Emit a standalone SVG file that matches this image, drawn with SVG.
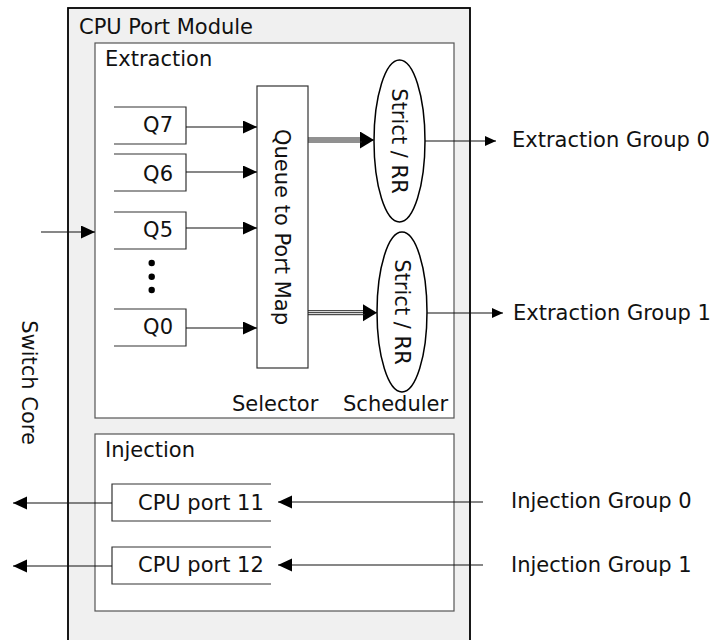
<svg xmlns="http://www.w3.org/2000/svg" width="712" height="640" viewBox="0 0 712 640">
<defs>
<style>
text{font-family:"DejaVu Sans",Verdana,sans-serif;font-size:21px;fill:#111}
.box{fill:#fff;stroke:#555;stroke-width:1.2}
.q{fill:#fff;stroke:#333;stroke-width:1.2}
.open{fill:none;stroke:#333;stroke-width:1.2}
.ln{fill:none;stroke:#111;stroke-width:1.2}
.tri{fill:none;stroke:#222;stroke-width:1}
</style>
<marker id="ah" markerUnits="userSpaceOnUse" markerWidth="14" markerHeight="14" refX="14" refY="6.5" orient="auto">
<path d="M0,0 L14,6.5 L0,13 z" fill="#000"/>
</marker>
<marker id="ahs" markerUnits="userSpaceOnUse" markerWidth="12" markerHeight="11" refX="11" refY="5" orient="auto">
<path d="M0,0 L11,5 L0,10 z" fill="#000"/>
</marker>
<marker id="ahb" markerUnits="userSpaceOnUse" markerWidth="15" markerHeight="18" refX="14" refY="8.5" orient="auto">
<path d="M0,0 L14,8.5 L0,17 z" fill="#000"/>
</marker>
</defs>

<g id="cpu-port-module">
<rect x="68" y="8" width="402" height="640" fill="#f0f0f0" stroke="#000" stroke-width="1.8"/>
<text x="79" y="34">CPU Port Module</text>
</g>

<g id="extraction">
<rect class="box" x="95" y="43" width="359" height="375"/>
<text x="105" y="66">Extraction</text>
<text x="232" y="411">Selector</text>
<text x="343" y="411">Scheduler</text>
</g>

<g id="q7">
<path class="open" d="M114,107 H186 V144 H114"/>
<text x="173" y="132" text-anchor="end">Q7</text>
</g>
<g id="q6">
<path class="open" d="M114,154 H186 V191 H114"/>
<text x="173" y="181" text-anchor="end">Q6</text>
</g>
<g id="q5">
<path class="open" d="M114,212 H186 V249 H114"/>
<text x="173" y="237" text-anchor="end">Q5</text>
</g>
<g id="dots">
<circle cx="151.7" cy="263" r="3.2" fill="#000"/>
<circle cx="151.7" cy="276.7" r="3.2" fill="#000"/>
<circle cx="151.7" cy="290" r="3.2" fill="#000"/>
</g>
<g id="q0">
<path class="open" d="M114,309 H186 V346 H114"/>
<text x="173" y="334" text-anchor="end">Q0</text>
</g>

<g id="queue-to-port-map">
<rect class="q" x="257" y="86" width="51" height="282"/>
<text transform="translate(282.5,227) rotate(90)" x="0" y="7.7" text-anchor="middle">Queue to Port Map</text>
</g>

<g id="scheduler-0">
<ellipse cx="399.5" cy="141" rx="25.5" ry="81" fill="#fff" stroke="#000" stroke-width="1.5"/>
<text transform="translate(399.5,141) rotate(90)" x="0" y="7.7" text-anchor="middle">Strict / RR</text>
</g>
<g id="scheduler-1">
<ellipse cx="402" cy="312" rx="25" ry="80" fill="#fff" stroke="#000" stroke-width="1.5"/>
<text transform="translate(402,312) rotate(90)" x="0" y="7.5" text-anchor="middle">Strict / RR</text>
</g>

<g id="injection">
<rect class="box" x="95" y="434" width="359" height="177"/>
<text x="105" y="457">Injection</text>
</g>
<g id="cpu-port-11">
<path class="open" d="M271,484 H112 V521 H271"/>
<text x="138" y="510">CPU port 11</text>
</g>
<g id="cpu-port-12">
<path class="open" d="M271,547 H112 V584 H271"/>
<text x="138" y="572">CPU port 12</text>
</g>

<g id="labels">
<text x="512" y="147">Extraction Group 0</text>
<text x="513" y="320">Extraction Group 1</text>
<text x="511" y="508">Injection Group 0</text>
<text x="511" y="572">Injection Group 1</text>
<text transform="translate(22,382.5) rotate(90)" x="0" y="0" text-anchor="middle">Switch Core</text>
</g>

<g id="connectors">
<line class="ln" x1="186" y1="127" x2="257" y2="127" marker-end="url(#ah)"/>
<line class="ln" x1="186" y1="172" x2="257" y2="172" marker-end="url(#ah)"/>
<line class="ln" x1="186" y1="228" x2="257" y2="228" marker-end="url(#ah)"/>
<line class="ln" x1="186" y1="328" x2="257" y2="328" marker-end="url(#ah)"/>
<line class="ln" x1="41" y1="232" x2="95" y2="232" marker-end="url(#ah)"/>

<line class="tri" x1="308" y1="138" x2="362" y2="138"/>
<line class="tri" x1="308" y1="140" x2="374" y2="140" marker-end="url(#ahb)"/>
<line class="tri" x1="308" y1="142" x2="362" y2="142"/>
<line class="tri" x1="308" y1="310.7" x2="365" y2="310.7"/>
<line class="tri" x1="308" y1="312.7" x2="377" y2="312.7" marker-end="url(#ahb)"/>
<line class="tri" x1="308" y1="314.7" x2="365" y2="314.7"/>

<line class="ln" x1="425" y1="141" x2="496" y2="141" marker-end="url(#ahs)"/>
<line class="ln" x1="427" y1="313" x2="503" y2="313" marker-end="url(#ahs)"/>

<line class="ln" x1="112" y1="503" x2="13" y2="503" marker-end="url(#ah)"/>
<line class="ln" x1="112" y1="566" x2="13" y2="566" marker-end="url(#ah)"/>
<line class="ln" x1="483" y1="502" x2="278" y2="502" marker-end="url(#ah)"/>
<line class="ln" x1="483" y1="565" x2="278" y2="565" marker-end="url(#ah)"/>
</g>
</svg>
